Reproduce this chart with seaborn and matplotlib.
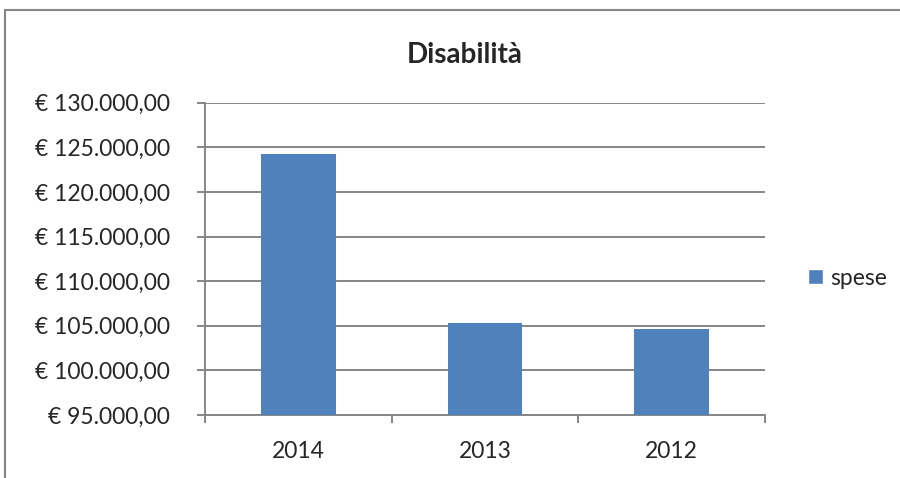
import pandas as pd
import seaborn as sns
import matplotlib.pyplot as plt
from matplotlib.ticker import FuncFormatter, MultipleLocator
from matplotlib.lines import Line2D
from matplotlib.patches import Patch

anni = ['2014', '2013', '2012']
spese = [124200, 105300, 104650]

df = pd.DataFrame({'Anno': anni, 'Spese': spese, 'Serie': 'spese'})

sns.set_style('white')
plt.rcParams['font.family'] = ['Lato', 'DejaVu Sans']

bar_color = '#4f81bd'
grid_color = '#868686'

fig = plt.figure(figsize=(9, 4.78), dpi=100)
ax = fig.add_axes([0.2278, 0.1318, 0.6222, 0.6533])

sns.barplot(data=df, x='Anno', y='Spese', hue='Serie', palette=[bar_color],
            saturation=1, width=0.4, linewidth=0, ax=ax, legend=False, zorder=3)

ax.set_ylim(95000, 130000)
ax.set_xlim(-0.5, 2.5)
ax.yaxis.set_major_locator(MultipleLocator(5000))


def euro(v, pos):
    s = f'{v:,.2f}'.replace(',', 'X').replace('.', ',').replace('X', '.')
    return f'€ {s}'


ax.yaxis.set_major_formatter(FuncFormatter(euro))
ax.grid(axis='y', color=grid_color, linewidth=1.4, zorder=0)
ax.set_axisbelow(True)

for side in ['top', 'right']:
    ax.spines[side].set_visible(False)
for side in ['left', 'bottom']:
    ax.spines[side].set_color(grid_color)
    ax.spines[side].set_linewidth(1.4)

ax.set_xlabel('')
ax.set_ylabel('')
ax.tick_params(axis='y', length=6, width=1.4, color=grid_color, pad=19,
               labelsize=16.5, left=True)
ax.tick_params(axis='x', length=0, pad=19, labelsize=16.5)

# category boundary ticks on the x axis
ax.set_xticks([-0.5, 0.5, 1.5, 2.5], minor=True)
ax.tick_params(axis='x', which='minor', length=6, width=1.4, color=grid_color,
               bottom=True)

fig.text(0.516, 0.885, 'Disabilità', ha='center', va='center',
         fontsize=20, fontweight='bold')

handles = [Patch(facecolor=bar_color, label='spese')]
fig.legend(handles=handles, loc='center left', bbox_to_anchor=(0.888, 0.418),
           frameon=False, fontsize=16.5, handlelength=0.65, handleheight=0.65,
           handletextpad=0.3, borderaxespad=0)

# outer chart frame
fig.add_artist(Line2D([5 / 900, 1], [1 - 10 / 478, 1 - 10 / 478],
                      transform=fig.transFigure, color=grid_color, linewidth=1.5))
fig.add_artist(Line2D([5 / 900, 5 / 900], [0, 1 - 10 / 478],
                      transform=fig.transFigure, color=grid_color, linewidth=1.5))

fig.savefig('out.png', dpi=100)
